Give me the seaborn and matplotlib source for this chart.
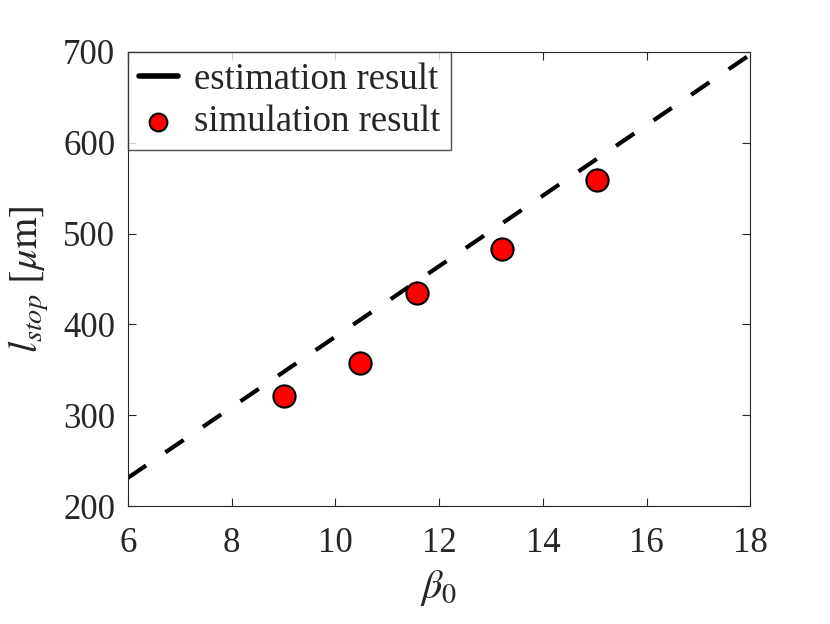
import matplotlib
matplotlib.use("Agg")
import matplotlib.pyplot as plt
import seaborn as sns
import numpy as np
import pandas as pd

# Data
line_beta = [6, 18]
line_lstop = [231, 697]
sim_beta = [9.02, 10.48, 11.57, 13.22, 15.05]
sim_lstop = [321, 357, 434, 483, 559]
xticks = [6, 8, 10, 12, 14, 16, 18]
yticks = [200, 300, 400, 500, 600, 700]

sns.set_theme(style="white")
plt.rcParams['font.family'] = ['Liberation Serif', 'DejaVu Serif']
plt.rcParams['mathtext.fontset'] = 'stix'

fig = plt.figure(figsize=(8.3, 6.24), dpi=100)
ax = fig.add_axes([0.154, 0.189, 0.750, 0.728])

df_line = pd.DataFrame({"beta": line_beta, "l": line_lstop})
df_sim = pd.DataFrame({"beta": sim_beta, "l": sim_lstop})

sns.lineplot(data=df_line, x="beta", y="l", ax=ax, color="black", lw=3.0,
             linestyle=(0, (5.3, 5.6)), label="estimation result")
sns.scatterplot(data=df_sim, x="beta", y="l", ax=ax, color="red", edgecolor="black",
                linewidth=1.5, s=255, zorder=3, label="simulation result")

ax.set_xlim(6, 18)
ax.set_ylim(200, 700)
ax.set_xticks(xticks)
ax.set_yticks(yticks)
ax.tick_params(direction="in", length=6, width=0.8, labelsize=25, colors="#262626",
               top=True, right=True, bottom=True, left=True)
ax.tick_params(axis="x", pad=15)
ax.tick_params(axis="y", pad=9)
for sp in ax.spines.values():
    sp.set_color("#262626")
    sp.set_linewidth(0.8)
ax.set_xlabel(r"$\beta_0$", fontsize=29, color="#262626", labelpad=6)
ax.set_ylabel(r"$l_{stop}\ [\mu\mathrm{m}]$", fontsize=29, color="#262626", labelpad=9)

leg = ax.legend(loc="upper left", fontsize=26.5, frameon=True, fancybox=False,
                borderaxespad=0, handlelength=1.05, handletextpad=0.45,
                borderpad=0.3, labelspacing=0.2, markerscale=0.8)
leg.get_frame().set_edgecolor("#262626")
leg.get_frame().set_linewidth(1.0)
leg.legend_handles[0].set_linestyle("-")
leg.legend_handles[0].set_linewidth(4.0)

fig.savefig("out.png", dpi=100, facecolor="white")
